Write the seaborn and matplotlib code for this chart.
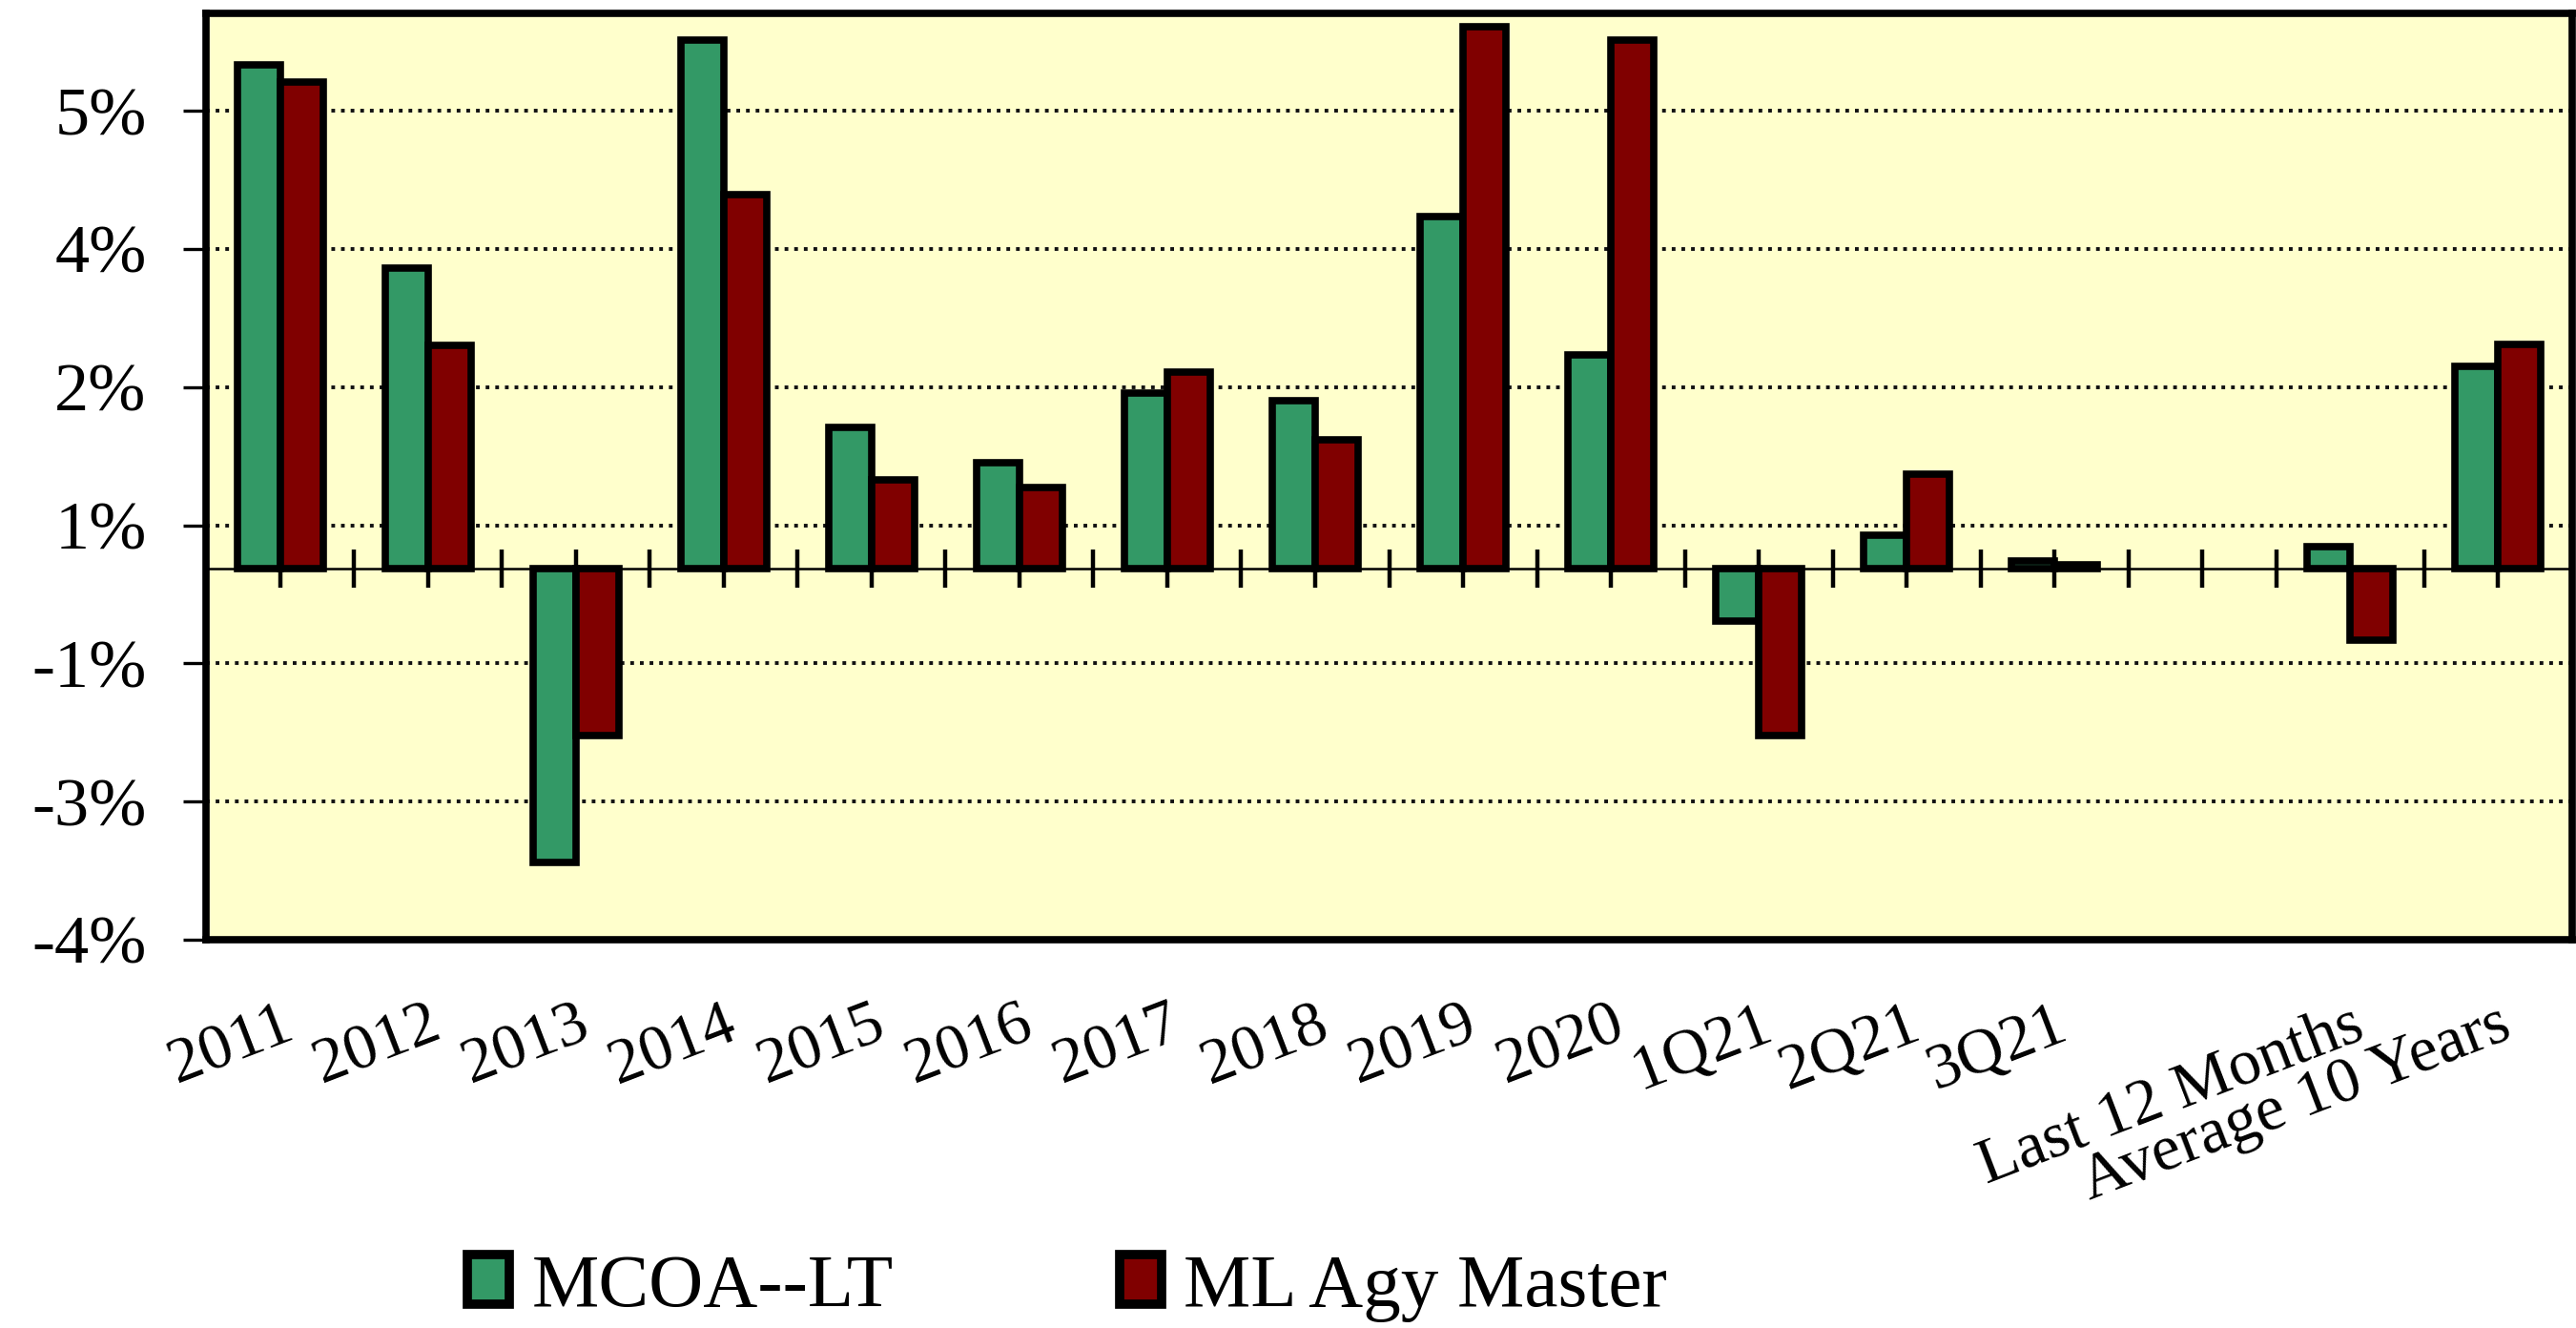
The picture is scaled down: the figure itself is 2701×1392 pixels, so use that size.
import numpy as np
import pandas as pd
import seaborn as sns
import matplotlib.pyplot as plt
from matplotlib.patches import Patch

# Data (percent)
periods = ["2011", "2012", "2013", "2014", "2015", "2016", "2017", "2018", "2019", "2020",
           "1Q21", "2Q21", "3Q21", "Last 12 Months", "Average 10 Years"]
mcoa_lt = [5.83, 3.48, -3.41, 6.12, 1.63, 1.23, 2.03, 1.94, 4.08, 2.47, -0.61, 0.39, 0.09, 0.25, 2.34]
ml_agy = [5.63, 2.58, -1.94, 4.33, 1.03, 0.94, 2.27, 1.49, 6.27, 6.12, -1.94, 1.09, 0.04, -0.83, 2.59]
series_names = ["MCOA--LT", "ML Agy Master"]
colors = ["#339966", "#800000"]

# original axis uses a 1.6% step with rounded labels
ytick_pos = [-4.3, -2.7, -1.1, 0.5, 2.1, 3.7, 5.3]
ytick_labels = ["-4%", "-3%", "-1%", "1%", "2%", "4%", "5%"]

# empty slot between 3Q21 and Last 12 Months
order = periods[:13] + [" "] + periods[13:]

df = pd.DataFrame({
    "period": periods * 2,
    "series": [series_names[0]] * len(periods) + [series_names[1]] * len(periods),
    "value": mcoa_lt + ml_agy,
})

plt.rcParams['font.family'] = ['Liberation Serif', 'DejaVu Serif']

fig, ax = plt.subplots(figsize=(27.01, 13.92), dpi=100)
fig.subplots_adjust(left=0.080, right=0.9985, top=0.990, bottom=0.2924)
ax.set_facecolor('#FFFFCC')

sns.barplot(data=df, x="period", y="value", hue="series", order=order, hue_order=series_names,
            palette=colors, saturation=1, width=0.58, edgecolor="black", linewidth=5.5,
            errorbar=None, legend=False, ax=ax)

ax.set_xlim(-0.5, len(order) - 0.5)
ax.set_ylim(-4.3, 6.43)
ax.set_yticks(ytick_pos, ytick_labels, fontsize=52)

# dotted gridlines, zero line with tick marks behind the bars
ax.yaxis.grid(True, linestyle=(0, (1.0, 1.6)), color='#111111', linewidth=2.8)
ax.set_axisbelow(True)
ax.axhline(0, color='black', lw=1.8, zorder=0.9)
ax.vlines(np.arange(0, len(order) - 0.99, 0.5), -0.22, 0.22, color='black', lw=3.2, zorder=0.9)

for s in ax.spines.values():
    s.set_linewidth(5.5)
    s.set_color('black')

ax.tick_params(axis='y', direction='out', length=17, width=2.4, pad=28)
ax.tick_params(axis='x', length=0, pad=42)
plt.setp(ax.get_xticklabels(), rotation=21, ha='right', va='top', rotation_mode='anchor', fontsize=49)
ax.set_xlabel("")
ax.set_ylabel("")

handles = [Patch(facecolor=c, edgecolor='black', linewidth=7) for c in colors]
fig.legend(handles, series_names, loc='center left', bbox_to_anchor=(490 / 2701, 0.03), ncol=2,
           frameon=False, fontsize=57, handlelength=0.55, handleheight=0.62, handletextpad=0.3,
           columnspacing=3.0, borderpad=0, borderaxespad=0)

fig.savefig("out.png", dpi=100)
